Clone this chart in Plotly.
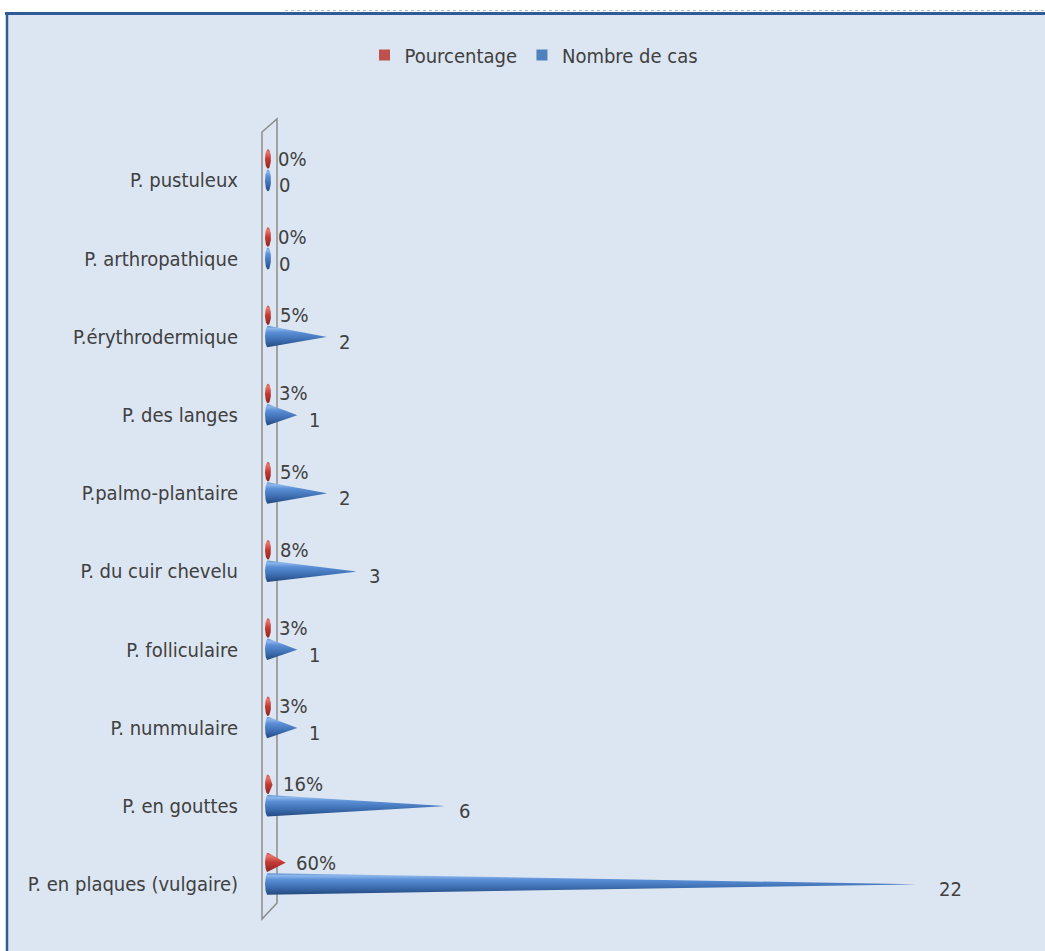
import numpy as np
import plotly.graph_objects as go

# Types de psoriasis, listed from the bottom row to the top row
categories = [
    "P. en plaques (vulgaire)",
    "P. en gouttes",
    "P. nummulaire",
    "P. folliculaire",
    "P. du cuir chevelu",
    "P.palmo-plantaire",
    "P. des langes",
    "P.érythrodermique",
    "P. arthropathique",
    "P. pustuleux",
]
nombre_de_cas = [22, 6, 1, 1, 3, 2, 1, 2, 0, 0]
pourcentage = [0.60, 0.16, 0.03, 0.03, 0.08, 0.05, 0.03, 0.05, 0.00, 0.00]

# ---- canvas geometry -------------------------------------------------------
W, H = 1045, 951
ML, MR, MT, MB = 259, 15, 110, 20
X_RANGE = [-0.3, 25.4]
Y_RANGE = [-0.6, 9.9]
PW = W - ML - MR
PH = H - MT - MB

FONT = "DejaVu Sans Condensed, Liberation Sans Narrow, sans-serif"
FS = 20
TEXT = "#404040"
BG = "#dce6f2"


def px_x(px):
    return X_RANGE[0] + (px - ML) / PW * (X_RANGE[1] - X_RANGE[0])


def px_y(py):
    return Y_RANGE[1] - (py - MT) / PH * (Y_RANGE[1] - Y_RANGE[0])


def paper_x(px):
    return (px - ML) / PW


def paper_y(py):
    return 1 - (py - MT) / PH


def cone(value, yc, half_h, rx, n=60):
    """Outline of a cone lying along x: elliptic base at x=0, tip at value."""
    ys = np.linspace(yc + half_h, yc - half_h, n)
    u = np.clip(1 - ((ys - yc) / half_h) ** 2, 0, None)
    ell = rx * np.sqrt(u)
    tri = value * (1 - np.abs(ys - yc) / half_h)
    right = np.maximum(ell, tri)
    xs = np.concatenate([right, -ell[::-1]])
    yy = np.concatenate([ys, ys[::-1]])
    return np.append(xs, xs[0]), np.append(yy, yy[0])


fig = go.Figure()

BLUE_SCALE = [[0, "#24497f"], [0.35, "#3e6fb3"], [0.7, "#5b8fd6"], [0.88, "#8db7ec"], [1, "#5f8fcf"]]
RED_SCALE = [[0, "#8e2622"], [0.5, "#c23a34"], [0.85, "#e8766c"], [1, "#c8453e"]]

RED_OFF, RED_H = 0.275, 0.125
BLUE_OFF, BLUE_H = 0.0, 0.14
RX = 0.1

for i, (n_cas, pct) in enumerate(zip(nombre_de_cas, pourcentage)):
    xr, yr = cone(pct, i + RED_OFF, RED_H, RX)
    fig.add_trace(go.Scatter(
        x=xr, y=yr, mode="lines", fill="toself",
        line=dict(width=0, color="#c0504d"),
        fillgradient=dict(type="vertical", colorscale=RED_SCALE),
        hoverinfo="skip", showlegend=False,
    ))
    xb, yb = cone(n_cas, i + BLUE_OFF, BLUE_H, RX)
    fig.add_trace(go.Scatter(
        x=xb, y=yb, mode="lines", fill="toself",
        line=dict(width=0, color="#4f81bd"),
        fillgradient=dict(type="vertical", colorscale=BLUE_SCALE),
        hoverinfo="skip", showlegend=False,
    ))

# legend entries
fig.add_trace(go.Scatter(x=[None], y=[None], mode="markers", name="Pourcentage",
                         marker=dict(symbol="square", size=11, color="#c0504d")))
fig.add_trace(go.Scatter(x=[None], y=[None], mode="markers", name="Nombre de cas",
                         marker=dict(symbol="square", size=11, color="#4f81bd")))

# data labels
annotations = []
for i, (n_cas, pct) in enumerate(zip(nombre_de_cas, pourcentage)):
    annotations.append(dict(
        x=pct, y=i + RED_OFF, text=f"{round(pct * 100)}%", xref="x", yref="y",
        xanchor="left", yanchor="middle", xshift=8, yshift=0, showarrow=False,
        font=dict(family=FONT, size=FS, color=TEXT),
    ))
    annotations.append(dict(
        x=n_cas, y=i + BLUE_OFF, text=str(n_cas), xref="x", yref="y",
        xanchor="left", yanchor="middle", xshift=9, yshift=-5, showarrow=False,
        font=dict(family=FONT, size=FS, color=TEXT),
    ))

# side wall of the 3-D plot area
wall = (f"M {px_x(262)},{px_y(919)} L {px_x(262)},{px_y(132)} "
        f"L {px_x(277)},{px_y(119)} L {px_x(277)},{px_y(903)} Z")

shapes = [
    dict(type="path", path=wall, xref="x", yref="y", layer="below",
         line=dict(color="#8c8c8c", width=1.5)),
    # white margin outside the chart frame
    dict(type="rect", xref="paper", yref="paper", layer="below",
         x0=paper_x(0), x1=paper_x(W), y0=paper_y(0), y1=paper_y(12),
         fillcolor="white", line=dict(width=0)),
    dict(type="rect", xref="paper", yref="paper", layer="below",
         x0=paper_x(0), x1=paper_x(6), y0=paper_y(0), y1=paper_y(H),
         fillcolor="white", line=dict(width=0)),
    # chart frame
    dict(type="line", xref="paper", yref="paper",
         x0=paper_x(5), x1=paper_x(W), y0=paper_y(13.5), y1=paper_y(13.5),
         line=dict(color="#2f5b97", width=3)),
    dict(type="line", xref="paper", yref="paper",
         x0=paper_x(7), x1=paper_x(7), y0=paper_y(12), y1=paper_y(H),
         line=dict(color="#2f5b97", width=2.5)),
    dict(type="line", xref="paper", yref="paper",
         x0=paper_x(285), x1=paper_x(W), y0=paper_y(10.5), y1=paper_y(10.5),
         line=dict(color="#b4b4b4", width=1, dash="dot")),
]

fig.update_layout(
    width=W, height=H,
    margin=dict(l=ML, r=MR, t=MT, b=MB),
    paper_bgcolor=BG, plot_bgcolor="rgba(0,0,0,0)",
    font=dict(family=FONT, size=FS, color=TEXT),
    xaxis=dict(range=X_RANGE, visible=False, fixedrange=True),
    yaxis=dict(range=Y_RANGE, tickvals=list(range(len(categories))), ticktext=categories,
               showgrid=False, zeroline=False, showline=False, ticks="",
               ticklabelstandoff=20, tickfont=dict(family=FONT, size=FS, color=TEXT),
               fixedrange=True),
    legend=dict(orientation="h", x=paper_x(534), xanchor="center",
                y=paper_y(55), yanchor="middle", bgcolor="rgba(0,0,0,0)",
                font=dict(family=FONT, size=FS, color=TEXT), itemwidth=30),
    annotations=annotations,
    shapes=shapes,
    showlegend=True,
)

fig.write_html("out.html")
